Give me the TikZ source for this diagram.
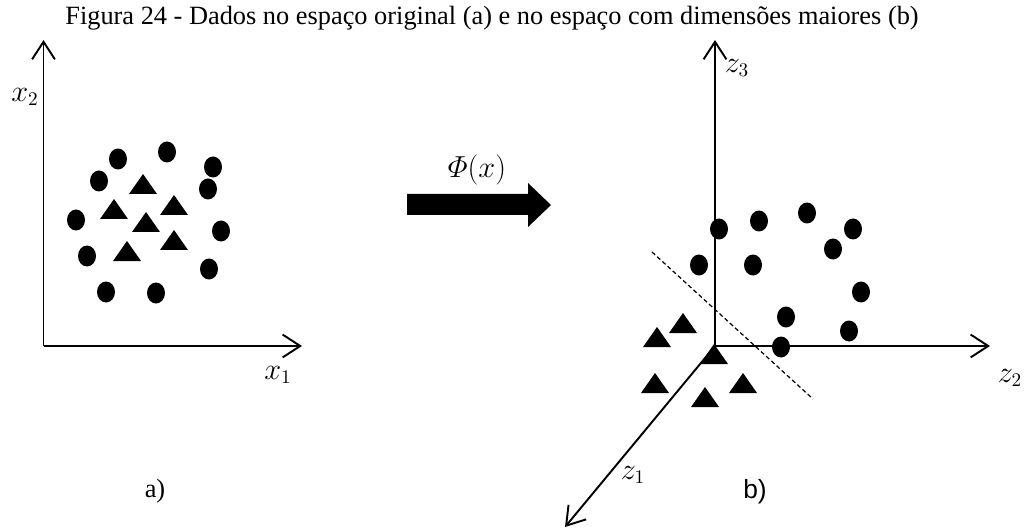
\documentclass[tikz,border=0pt]{standalone}
\usepackage{amsmath}
\usepackage{fontspec}
\setmainfont{Liberation Serif}
\setsansfont{Liberation Sans}
\usetikzlibrary{arrows.meta}

\begin{document}
\begin{tikzpicture}[x=0.02cm,y=-0.02cm,>={Straight Barb[length=10pt,width=13pt]}]
  \useasboundingbox (0,0) rectangle (1024,530);
  \tikzset{axis/.style={->,line width=1.1pt},
    lbl/.style={font=\fontsize{16}{18}\selectfont},
    txt/.style={font=\fontsize{15}{17}\selectfont},
    ptc/.style={fill=black},
    sep/.style={line width=0.7pt,dash pattern=on 2.4pt off 1.6pt}}
  \node[txt,anchor=base west,inner sep=0pt] (title) at (65,25)
    {Figura 24 - Dados no espaço original (a) e no espaço com dimensões maiores (b)};
  % espaco original
  \coordinate (oa) at (43.5,346);
  \coordinate (xa) at (302,346);
  \coordinate (ya) at (43.5,40);
  \draw[axis] (oa) -- (xa);
  \draw[axis] (oa) -- (ya);
  \node[lbl] (lx1) at (278,375) {$x_1$};
  \node[lbl] (lx2) at (25,97) {$x_2$};
  \foreach \x/\y in {118/159,167/152,213/167,99/181,208/189,76/220,221/231,87/256,209/269,106/292,156/293}
    \fill[ptc] (\x,\y) circle [x radius=9,y radius=10.5];
  \foreach \x/\y in {143/184,114/209,174/205,146/222,174/240,127/251}
    \fill[ptc] (\x-14,\y+10) -- (\x,\y-10) -- (\x+14,\y+10) -- cycle;
  \node[txt] (la) at (155,491) {a)};
  % mapeamento
  \fill (407,194) -- (528,194) -- (528,183) -- (551,205) -- (528,227) -- (528,215) -- (407,215) -- cycle;
  \node[lbl] (phi) at (477,170) {$\varPhi(x)$};
  % espaco com dimensoes maiores
  \coordinate (ob) at (715,346);
  \coordinate (z2a) at (990,346);
  \coordinate (z3a) at (715,40);
  \coordinate (z1a) at (565,527);
  \draw[axis] (ob) -- (z2a);
  \draw[axis] (ob) -- (z3a);
  \draw[axis] (ob) -- (z1a);
  \node[lbl] (lz1) at (633,475) {$z_1$};
  \node[lbl] (lz2) at (1010,378) {$z_2$};
  \node[lbl] (lz3) at (737,68) {$z_3$};
  \foreach \x/\y in {719/229,759/221,807/213,853/229,833/249,699/265,753/265,861/292,786/317,849/331,781/347}
    \fill[ptc] (\x,\y) circle [x radius=9,y radius=10.5];
  \foreach \x/\y in {683/323,657/337,714/354,655/383,743/383,705/397}
    \fill[ptc] (\x-14,\y+10) -- (\x,\y-10) -- (\x+14,\y+10) -- cycle;
  \coordinate (s1) at (652,252);
  \coordinate (s2) at (813,399);
  \draw[sep] (s1) -- (s2);
  \node[txt,font=\sffamily\fontsize{15}{17}\selectfont] (lb) at (755,492) {b)};
\end{tikzpicture}
\end{document}
